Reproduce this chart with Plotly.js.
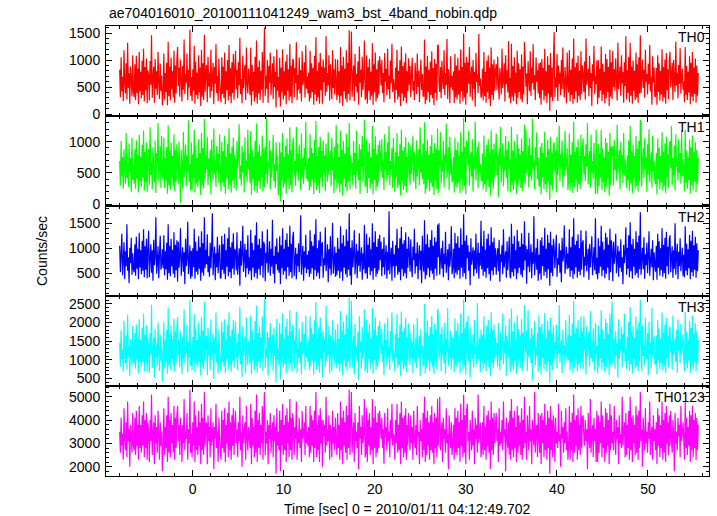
<!DOCTYPE html>
<html>
<head>
<meta charset="utf-8">
<script src="https://cdn.plot.ly/plotly-3.0.1.min.js"></script>
<style>html,body{margin:0;padding:0;background:#fff;}#chart{width:717px;height:516px;}</style>
</head>
<body>
<div id="chart"></div>
<script>
// Time grid: start time and bin width (seconds)
const tStart = -8.0;
const tStep = 0.0795;

const labels = ["TH0", "TH1", "TH2", "TH3", "TH0123"];
const colors = ["#ff0000", "#00ff00", "#0000ff", "#00ffff", "#ff00ff"];

const th0 = [
820,310,1050,420,690,240,1180,560,380,940,
270,1320,480,760,190,880,620,330,1090,410,
310,920,260,1080,390,840,180,1150,420,780,290,990,350,1210,230,870,440,1030,200,810,
720,250,980,540,1460,300,660,880,210,1020,
470,790,350,1150,590,280,930,430,710,160,
370,1120,270,760,410,950,160,1340,330,880,250,1040,460,790,300,1170,210,900,380,1010,
1240,520,860,320,1010,640,230,890,450,1380,
370,740,580,1120,260,820,490,1560,340,680,
240,830,430,1260,190,970,350,770,280,1090,400,860,150,1190,320,940,260,1470,410,800,
910,220,1060,510,770,300,1190,420,630,950,
180,870,560,1290,390,700,240,1030,610,340,
220,1050,370,880,290,1140,180,790,440,1000,250,1280,330,850,200,960,390,1110,270,820,
1170,460,820,290,960,530,1410,370,650,200,
1080,480,750,910,260,1230,550,380,840,620,
350,1230,160,910,420,780,230,1060,300,1360,190,870,380,990,260,800,450,1150,210,930,
1600,330,710,470,1000,210,890,580,1140,350,
660,940,280,1070,500,780,120,1200,430,690,
310,1040,140,860,400,1200,270,790,340,970,180,1100,430,830,250,1290,320,890,200,1020,
980,310,850,570,1330,260,720,450,1050,380,
810,230,1160,540,640,960,300,1270,470,700,
380,770,230,1170,290,940,410,850,170,1080,360,1420,240,800,310,960,190,1130,440,880,
190,1010,590,860,340,1440,410,760,530,1090,
250,920,620,280,1180,480,830,360,1020,560,
260,1010,350,790,200,1240,330,900,150,1060,420,840,280,1180,220,950,370,1550,250,810,
1530,320,690,900,240,1110,510,740,400,970,
170,1250,580,820,310,1060,450,680,1360,270,
300,1090,190,870,430,1020,260,780,340,1310,170,920,400,1140,230,830,290,990,360,1070,
880,530,1000,390,760,220,1130,600,840,350,
1210,460,710,280,990,570,1300,410,650,520,
210,860,440,1190,270,800,320,1000,150,1250,380,890,240,960,300,1120,200,790,420,1030,
540,890,310,720,1040,430,610,260,950,680,
370,1120,500,800,220,660,1010,450,740,330,
330,1380,180,880,260,1080,410,820,220,970,350,1160,290,850,160,1020,390,930,250,1270,
1270,580,410,870,290,990,620,460,1180,350,
760,540,1390,280,830,640,200,1070,490,710,
440,790,200,1110,310,900,270,1040,360,810,190,1200,420,870,230,1490,300,950,170,1060,
380,960,560,1240,320,690,880,250,1000,470,
780,140,1130,600,730,390,1480,520,660,300,
380,840,250,1150,330,780,210,990,400,1090,280,860,150,1230,350,920,260,1010,430,800,
920,440,1060,590,270,850,700,360,1210,480,
620,940,230,1090,550,810,400,1350,290,670,
200,1300,320,890,240,1050,390,770,180,1170,300,940,410,830,270,1100,220,880,360,1340,
1020,510,750,180,980,630,420,1160,340,860,
570,1290,450,720,260,1050,600,810,380,940,
290,960,170,1020,440,850,250,1210,330,790,200,1070,380,910,60,1130,310,860,240,990,
1520,310,680,490,1110,240,900,560,770,350,
1000,460,1230,590,300,870,640,200,1140,520,
400,1180,230,820,350,1030,190,1400,280,870,420,950,210,1080,330,800,260,1160,370,900,
730,410,970,270,1400,540,690,840,330,1080,
480,760,150,920,610,1260,370,710,550,990,
180,1000,300,840,430,1250,240,930,360,780,200,1110,290,1020,410,870,150,1190,320,960,
280,1170,500,830,430,1030,650,250,1320,460,
700,880,340,1090,570,780,210,960,520,1440,
270,810,390,1060,220,1320,340,880,190,990,430,800,260,1140,300,920,210,1050,380,1460,
390,670,1010,480,820,300,1190,600,740,360,
930,550,1280,420,690,170,1070,580,860,320,
330,850,170,1090,410,940,250,800,360,1200,230,870,300,1010,190,1130,440,830,280,970,
1150,490,720,950,260,1000,630,410,1340,530,
770,290,910,560,1220,380,680,840,450,600,
220,1240,350,890,260,780,400,1070,180,950,320,1150,240,860,370,1030,210,900,340,760];

const th1 = [
690,300,1010,450,760,250,880,570,330,1140,
420,650,280,970,520,740,200,1060,390,610,
330,880,250,1020,410,790,190,1110,370,760,280,950,430,1180,220,840,350,990,200,780,
880,310,1230,470,690,240,910,560,350,1020,
180,820,640,1300,380,560,930,260,1090,470,
400,1060,260,740,380,910,170,1260,300,850,240,990,440,770,290,1120,210,870,360,960,
720,330,1000,540,20,870,610,250,1160,430,
680,950,290,780,510,1340,360,640,220,990,
230,800,420,1190,190,930,330,740,270,1040,390,820,150,1140,310,900,250,1360,400,770,
560,1080,310,730,450,870,160,1040,600,380,
1210,490,700,280,930,540,810,340,1120,470,
210,1000,350,850,280,1090,170,760,430,960,240,1210,320,820,190,920,380,1060,260,790,
650,220,1010,580,760,1280,400,620,300,940,
510,830,190,1070,450,700,360,1190,560,800,
340,1170,150,880,410,750,220,1010,290,1290,180,840,370,950,250,770,440,1100,200,890,
270,920,480,1380,330,680,590,1020,240,860,
430,720,1110,370,640,260,990,530,770,150,
300,990,40,830,390,1140,260,760,330,930,170,1050,420,800,240,1230,310,860,190,980,
1060,460,690,300,1240,520,810,380,950,600,
230,1130,440,740,330,900,560,1320,410,650,
370,740,220,1120,280,900,400,820,160,1030,350,1330,230,770,300,920,180,1080,430,850,
280,1020,500,780,210,970,620,360,1150,470,
700,850,290,1060,540,740,180,920,400,1270,
250,970,340,760,190,1180,320,870,140,1010,410,810,270,1130,210,910,360,1300,240,780,
580,660,310,1010,470,820,250,1180,530,710,
390,960,170,880,600,1090,350,640,1350,290,
290,1040,180,840,420,980,250,750,330,1250,160,890,390,1090,220,800,280,950,350,1020,
780,510,1040,420,700,230,1120,560,830,360,
990,470,1250,310,690,560,900,260,1060,520,
200,830,430,1140,260,770,310,960,140,1190,370,860,230,920,290,1070,190,760,410,990,
620,310,940,480,720,1100,360,830,560,240,
1020,450,690,880,300,1230,510,760,400,970,
320,1310,170,850,250,1030,400,790,210,930,340,1110,280,820,150,980,380,890,240,1210,
180,860,600,1150,340,700,520,1010,270,790,
640,1290,420,580,910,230,1080,490,740,350,
430,760,190,1060,300,870,260,1000,350,780,180,1150,410,840,220,1380,290,910,160,1020,
950,620,1180,300,680,830,440,1040,200,770,
560,1320,380,710,920,260,1000,530,650,410,
370,810,240,1100,320,750,200,950,390,1040,270,830,140,1180,340,880,250,970,420,770,
1130,470,800,120,890,620,1240,350,690,980,
290,760,540,1090,430,870,210,1010,580,720,
190,1240,310,860,230,1010,380,740,170,1120,290,900,400,800,260,1050,210,850,350,1270,
330,1200,500,660,940,270,1060,450,790,380,
1370,560,700,240,910,610,1150,400,750,310,
280,920,160,980,430,820,240,1160,320,760,190,1030,370,880,70,1080,300,830,230,950,
990,520,860,190,1080,470,680,1260,360,800,
590,1020,280,730,450,1170,540,640,900,230,
390,1130,220,790,340,990,180,1320,270,840,410,910,200,1040,320,770,250,1110,360,870,
1050,480,770,370,960,600,1300,320,700,850,
260,1110,510,690,410,980,570,160,1190,440,
170,960,290,810,420,1190,230,890,350,750,190,1060,280,980,400,840,140,1140,310,920,
760,930,300,1030,550,720,380,1270,490,660,
870,250,1000,610,790,340,1140,460,710,520,
260,780,380,1020,210,1250,330,850,180,950,420,770,250,1090,290,890,200,1010,370,1340,
1330,290,680,900,420,1060,560,750,200,960,
480,1200,350,640,830,270,1090,530,700,390,
320,820,160,1050,400,900,240,770,350,1150,220,840,290,970,180,1080,430,800,270,930,
1010,580,1250,310,740,470,940,220,1120,600,
680,380,1040,500,820,330,1180,450,720,560,
210,1190,340,860,250,750,390,1030,170,910,310,1100,230,830,360,990,200,870,330,740];

const th2 = [
1050,520,880,1290,460,760,1120,380,940,640,
1480,550,820,300,1010,700,1210,470,900,590,
520,1080,450,1230,590,990,380,1310,620,960,480,1150,550,1380,420,1040,570,1190,400,980,
1350,420,780,1080,510,960,350,1170,660,830,
1620,490,720,1040,400,870,1250,570,690,980,
600,1260,460,940,580,1110,370,1480,500,1050,440,1190,640,970,490,1320,410,1070,560,1160,
330,1130,610,850,1400,450,760,1020,530,920,
280,1190,640,800,1530,480,710,1060,390,950,
430,1000,620,1390,390,1130,530,950,470,1240,590,1020,350,1340,510,1100,450,1620,600,970,
680,1280,520,840,430,1110,600,990,1700,460,
770,1030,360,900,620,1230,500,860,1070,410,
410,1250,570,1080,490,1290,380,960,630,1200,440,1420,520,1020,400,1120,590,1300,470,990,
930,560,1320,470,740,1000,250,1150,650,880,
1450,530,790,1090,420,970,600,1260,480,820,
550,1370,360,1110,610,960,420,1260,500,1520,390,1070,580,1190,460,1000,650,1340,410,1130,
1060,340,910,700,1380,510,760,1140,450,990,
630,1570,490,850,300,1040,680,1200,560,920,
510,1240,280,1060,600,1400,470,990,540,1170,380,1300,620,1030,450,1450,520,1090,400,1220,
1330,440,780,1010,380,890,640,1100,520,960,
1660,470,730,1050,350,940,610,1270,500,870,
580,950,430,1360,490,1140,600,1050,370,1280,560,1580,440,1000,510,1160,390,1330,640,1080,
1120,410,800,660,1420,540,750,1080,320,980,
590,1240,460,830,1510,490,710,1030,430,910,
460,1210,550,990,400,1440,530,1100,350,1260,610,1040,480,1380,420,1150,570,1700,450,1010,
270,1160,620,860,1360,480,770,1090,400,950,
650,1300,530,820,1020,370,900,580,1470,510,
500,1290,390,1070,620,1220,460,980,540,1500,370,1120,600,1340,430,1030,490,1190,560,1270,
760,1130,440,990,620,1220,470,840,1060,390,
930,560,1740,480,790,1010,350,1150,640,880,
410,1060,640,1390,470,1000,520,1200,360,1430,580,1090,440,1160,500,1320,400,990,610,1230,
880,530,1180,660,420,1030,760,1390,490,900,
640,1120,380,850,1060,560,950,300,1250,700,
530,1560,380,1080,460,1280,600,1020,420,1170,550,1360,490,1050,370,1220,590,1130,450,1470,
820,1500,470,780,1000,590,1150,420,890,680,
1330,510,740,980,360,1090,630,870,1440,480,
630,990,400,1310,510,1100,470,1240,560,1010,390,1400,610,1070,430,1680,500,1150,380,1260,
800,1060,550,930,260,1200,670,840,1020,440,
960,580,1290,500,760,1110,390,910,650,1550,
580,1040,450,1350,530,970,410,1190,600,1290,480,1060,350,1420,550,1120,460,1210,620,1000,
470,830,1000,540,1170,330,880,720,1060,480,
1380,610,790,940,410,1140,560,860,1230,450,
400,1490,520,1090,440,1250,590,960,380,1370,500,1140,610,1030,470,1300,420,1080,560,1540,
750,1050,290,980,630,1310,520,820,1080,400,
920,690,1640,460,770,1010,570,1190,350,870,
490,1160,370,1220,640,1050,450,1410,530,990,400,1270,580,1110,250,1330,510,1060,440,1190,
1040,600,940,1270,430,800,670,1100,510,960,
320,1210,740,850,1460,490,720,1030,580,900,
600,1380,430,1020,550,1230,390,1600,480,1070,620,1150,410,1280,530,1000,460,1360,570,1100,
1160,420,830,650,1350,540,780,990,370,1080,
620,890,1240,460,750,1020,560,1600,480,810,
380,1200,500,1040,630,1450,440,1130,560,970,400,1310,490,1220,610,1070,360,1390,520,1160,
970,340,1130,690,860,1290,500,760,1050,430,
940,610,1180,530,820,280,1070,700,910,1420,
470,1010,590,1260,420,1520,540,1080,390,1190,630,990,460,1340,500,1120,410,1250,580,1720,
470,790,1010,580,1220,390,880,660,1110,500,
840,1340,450,730,990,620,1160,360,920,680,
530,1050,370,1290,610,1140,450,1000,560,1400,430,1070,500,1210,390,1330,640,1030,480,1170,
1260,520,800,1040,410,960,590,1500,470,850,
1090,380,930,640,1200,540,780,1010,440,870,
420,1440,550,1090,460,980,600,1270,380,1150,520,1350,440,1060,570,1230,410,1100,540,960];

const th3 = [
1450,820,1790,1020,1260,680,2050,1130,900,1640,
740,2210,1080,1380,560,1560,1190,860,1910,1000,
880,1720,760,1950,1010,1580,640,2080,930,1540,800,1860,960,2240,700,1670,900,1930,680,1600,
1320,650,1720,1150,2480,780,1240,1600,520,1830,
1060,1410,830,2000,1210,700,1680,970,1350,420,
990,2010,770,1520,950,1800,620,2390,850,1690,730,1920,1030,1560,820,2110,690,1750,920,1870,
2150,1110,1540,800,1770,1260,610,1620,1030,2360,
890,1330,1180,1950,660,1490,1070,2600,840,1290,
720,1610,1000,2230,660,1840,880,1530,790,2000,960,1650,580,2150,840,1780,750,2560,980,1570,
1650,580,1860,1120,1400,730,2090,990,1250,1710,
480,1580,1160,2270,920,1310,620,1800,1220,810,
690,2020,940,1730,810,2090,640,1550,1020,1940,740,2280,870,1640,680,1820,960,2070,780,1590,
2030,1050,1470,710,1690,1140,2420,880,1280,540,
1900,1090,1370,1620,640,2140,1170,860,1520,1230,
910,2190,600,1790,1000,1540,710,2040,830,2450,650,1720,950,1900,770,1610,1040,2160,690,1830,
2650,790,1330,1060,1760,570,1610,1200,1990,850,
1270,1680,700,1870,1100,1420,380,2100,1010,1300,
860,1990,480,1700,970,2260,790,1580,890,1890,640,2100,1010,1650,740,2330,870,1760,680,1950,
1730,760,1550,1180,2300,650,1340,1040,1840,900,
1480,600,2020,1150,1260,1700,740,2190,1070,1320,
940,1530,720,2170,820,1850,990,1690,610,2060,930,2550,730,1600,850,1870,650,2140,1030,1740,
530,1780,1210,1570,820,2450,960,1390,1130,1920,
630,1660,1240,700,2060,1090,1500,870,1810,1190,
770,1960,910,1560,680,2310,880,1780,590,2030,1000,1680,800,2210,710,1840,950,2680,760,1620,
2580,780,1310,1640,610,1960,1120,1360,940,1740,
460,2170,1200,1490,760,1880,1030,1290,2350,680,
830,2080,640,1730,1020,1970,760,1580,900,2400,620,1810,980,2150,720,1660,820,1910,940,2050,
1600,1150,1830,930,1380,590,1980,1230,1530,840,
2120,1060,1340,720,1770,1190,2280,970,1270,1140,
690,1700,1040,2230,790,1600,860,1940,570,2300,960,1760,740,1870,830,2120,670,1590,1000,1980,
1310,860,1720,1050,1480,640,1960,1180,920,1590,
770,2120,1240,1040,1650,560,1830,1150,1390,820,
880,2500,630,1740,770,2050,990,1630,700,1880,920,2180,810,1690,620,1960,970,1810,750,2370,
2280,1010,1270,1700,690,1890,1120,1430,900,2010,
620,1560,1220,2390,850,1330,1070,1780,740,1620,
1030,1590,660,2110,850,1780,790,1990,930,1620,640,2250,1000,1720,710,2620,840,1850,600,2020,
1190,2180,960,1410,500,1870,1250,1030,1680,790,
2070,1140,1360,870,2530,980,1290,1590,660,1820,
960,1670,750,2170,880,1550,690,1920,990,2070,800,1710,560,2280,910,1800,770,1950,1020,1610,
1100,1450,810,1990,1210,720,1740,1000,1380,2250,
880,1510,1160,1920,570,1640,1260,1060,2100,830,
670,2380,860,1760,730,2010,970,1540,620,2200,820,1830,1000,1650,780,2090,700,1720,930,2470,
1420,1190,1790,700,2340,1080,1300,1570,910,1850,
440,1670,1230,2040,860,1350,1110,1730,680,2200,
810,1880,610,1960,1040,1690,740,2260,870,1580,680,2040,950,1790,380,2130,850,1700,720,1920,
1020,1460,1250,1940,780,1610,1170,2470,920,1320,
1530,640,1810,1130,1390,850,2060,1200,990,1660,
990,2210,710,1630,900,1980,650,2580,790,1720,1020,1850,690,2060,870,1610,760,2170,940,1760,
750,2160,1270,1440,600,1900,1090,1340,1750,820,
2310,1050,1480,940,1840,1210,710,1990,1150,1370,
630,1930,820,1670,1030,2330,730,1820,920,1560,660,2100,800,1990,1000,1700,590,2230,850,1870,
2560,870,1290,1600,760,1780,1120,1430,520,2090,
1030,1550,1240,1880,800,1690,1180,2240,950,1310,
760,1620,970,2020,700,2420,880,1750,640,1900,1030,1600,770,2160,820,1810,690,2000,950,2610,
1620,690,1930,1100,1400,860,2130,1230,1010,1720,
580,2020,1160,1470,780,2400,1070,1350,1640,890,
870,1660,610,2070,990,1840,740,1570,910,2270,710,1730,840,1950,650,2120,1040,1640,790,1890,
1860,1200,1500,730,2190,1120,1300,1570,940,1800,
650,2080,1250,1420,910,1960,1140,1380,1690,1030,
700,2290,900,1760,780,1550,980,2040,640,1860,860,2190,730,1700,930,1990,690,1780,880,1530];

const th0123 = [
3500,2600,4100,2900,3400,2300,4500,3200,2700,3900,
2400,4800,3100,3600,2000,3800,3300,2600,4300,2900,
2700,4100,2500,4400,2900,3800,2300,4600,2800,3800,2600,4200,2900,4800,2400,4000,2800,4300,2300,3900,
3500,2200,4000,3100,5100,2500,3400,3900,2100,4200,
3000,3700,2600,4400,3300,2300,3900,2900,3500,1800,
2900,4500,2500,3700,2800,4200,2200,5000,2600,4000,2400,4300,3000,3800,2600,4600,2300,4100,2800,4200,
4600,3100,3800,2500,4100,3400,2200,3800,3000,4900,
2700,3500,3200,4300,2300,3600,3000,5300,2600,3400,
2400,3900,2900,4800,2200,4200,2700,3700,2500,4400,2900,3900,2100,4700,2700,4100,2500,5200,2900,3800,
3900,2100,4200,3100,3700,2400,4500,2900,3400,3900,
1900,3700,3200,4700,2800,3500,2200,4100,3300,2600,
2300,4400,2800,4000,2600,4500,2200,3800,3000,4300,2400,4800,2700,3900,2300,4200,2900,4500,2500,3800,
4400,3000,3600,2400,3900,3100,5000,2700,3500,2000,
4200,3000,3500,3900,2300,4600,3200,2700,3700,3300,
2800,4700,2100,4100,2900,3700,2400,4400,2600,5100,2200,4000,2800,4300,2500,3800,3000,4600,2300,4200,
5200,2500,3500,3000,4000,2100,3800,3200,4300,2600,
3400,3900,2400,4200,3100,3700,1700,4500,2900,3500,
2700,4400,1800,4000,2900,4700,2500,3800,2700,4200,2200,4500,3000,3900,2400,4900,2700,4100,2300,4300,
3900,2500,3700,3200,4800,2300,3500,3000,4100,2800,
3600,2200,4400,3200,3400,3900,2500,4600,3000,3500,
2900,3700,2400,4600,2600,4200,2900,4000,2200,4400,2800,5200,2400,3800,2700,4200,2200,4500,3000,4000,
2000,4000,3300,3800,2600,5000,2900,3600,3100,4200,
2300,3800,3400,2400,4400,3000,3700,2700,4100,3200,
2500,4300,2800,3800,2300,4800,2700,4100,2100,4400,2900,3900,2600,4600,2300,4200,2800,5300,2500,3900,
5200,2600,3500,3900,2200,4300,3100,3500,2800,3900,
1900,4600,3200,3700,2500,4200,3000,3400,4900,2400,
2600,4500,2200,4000,2900,4300,2500,3700,2700,4900,2100,4100,2800,4600,2400,3900,2600,4300,2800,4400,
3800,3200,4100,2800,3600,2100,4300,3300,3700,2700,
4500,3100,3500,2400,4000,3200,4700,2900,3400,3300,
2300,4000,3000,4700,2600,3800,2700,4300,2100,4800,2800,4100,2400,4200,2600,4500,2300,3800,2900,4300,
3400,2700,4200,3000,3700,2300,4400,3200,2800,3800,
2500,4600,3300,3500,2100,4000,3100,3600,2400,4300,
2700,5000,2200,4100,2500,4400,2900,3900,2300,4200,2700,4600,2600,3900,2100,4300,2800,4100,2400,4900,
2900,3500,5000,2700,3300,3900,2200,4100,3200,3600,
2600,4500,3000,3400,1900,4200,3300,2800,3900,2500,
3000,3800,2300,4500,2600,4100,2500,4400,2800,3900,2200,4700,2900,4000,2400,5100,2600,4200,2100,4400,
4700,3100,3500,2300,4000,3400,2700,4400,2900,3600,
2100,4100,3200,3800,2600,5100,3000,3400,3900,2400,
2800,3900,2500,4600,2700,3700,2300,4200,2900,4400,2600,4000,1900,4800,2700,4100,2500,4300,3000,3800,
4300,3100,3600,2200,4500,2900,3500,3000,4000,2700,
4800,3300,3600,1800,4100,3200,2800,3900,2500,4400,
2300,4900,2700,4100,2400,4400,2800,3700,2200,4600,2600,4200,2900,3900,2500,4500,2300,4000,2800,5000,
3000,3500,2300,4200,3400,2700,4600,3100,3600,2100,
4000,3300,2900,5200,2600,3500,3800,2400,4300,3200,
2600,4200,2100,4300,3000,4000,2400,4700,2700,3800,2300,4400,2800,4100,1700,4600,2700,4000,2400,4200,
3600,2200,4100,3000,3500,2800,4700,3100,3400,2000,
4400,3200,3700,2600,3900,3000,4500,2700,3500,2300,
2900,4600,2300,3900,2700,4300,2200,5100,2600,4000,2900,4200,2300,4500,2700,3800,2500,4600,2800,4100,
4200,3300,2900,4000,3100,3600,1900,4300,3200,2800,
4900,2600,3400,3800,2400,4100,3100,3600,2200,4400,
2200,4200,2600,3900,3000,4800,2400,4200,2800,3700,2200,4500,2600,4300,2900,4000,2100,4700,2700,4200,
3000,3500,2700,4600,3300,2500,4000,3200,3700,2100,
4200,3000,3400,2800,5000,2900,3500,3900,2400,4300,
2500,3800,2800,4400,2300,5000,2700,4100,2200,4200,3000,3800,2500,4600,2600,4200,2300,4400,2800,5200,
3100,3600,2000,4100,3300,2700,4500,3000,3500,2600,
3900,3200,4800,2500,3400,3700,2300,4200,3100,3600,
2700,3900,2100,4500,2900,4200,2400,3800,2800,4800,2300,4000,2600,4300,2200,4600,3000,3900,2500,4200,
2900,4400,3200,2600,4000,3400,1800,4300,3000,3500,
2700,4100,3300,3800,2400,4600,3100,3400,3900,3200,
2300,4800,2800,4100,2500,3700,2900,4400,2200,4200,2700,4600,2400,4000,2800,4300,2300,4100,2700,3800];

const series = [th0, th1, th2, th3, th0123];
const yRanges = [[-37, 1630], [-27, 1410], [46, 1846], [293, 2715], [1600, 5460]];
const yDticks = [500, 500, 500, 500, 1000];
const yMinor = [100, 100, 100, 100, 200];
const xRange = [-9.5, 56.7];
const titleText = "ae704016010_20100111041249_wam3_bst_4band_nobin.qdp";
const xTitle = "Time [sec] 0 = 2010/01/11 04:12:49.702";
const yTitle = "Counts/sec";

const font = {family: "Liberation Sans, Arial, Helvetica, sans-serif", size: 14, color: "#000"};
const n = 5;
const traces = [];
const layout = {
  width: 717, height: 516,
  margin: {l: 106, r: 8, t: 26, b: 40},
  paper_bgcolor: "#fff", plot_bgcolor: "#fff",
  showlegend: false,
  font: font,
  annotations: []
};

series.forEach((vals, i) => {
  const t = vals.map((_, k) => tStart + k * tStep);
  const suf = i === 0 ? "" : String(i + 1);
  traces.push({
    x: t, y: vals, type: "scatter", mode: "lines",
    xaxis: "x" + suf, yaxis: "y" + suf,
    line: {color: colors[i], width: 1.2, simplify: false},
    hoverinfo: "skip"
  });
  const top = 1 - i / n, bot = 1 - (i + 1) / n;
  layout["xaxis" + suf] = {
    range: xRange, anchor: "y" + suf,
    showline: true, linecolor: "#000", linewidth: 1, mirror: "allticks",
    ticks: "inside", ticklen: 6, tickcolor: "#000", dtick: 10, tick0: 0,
    minor: {dtick: 2, ticks: "inside", ticklen: 3, tickcolor: "#000", showgrid: false},
    showgrid: false, zeroline: false,
    showticklabels: i === n - 1,
    tickfont: font
  };
  if (i > 0) layout["xaxis" + suf].matches = "x";
  layout["yaxis" + suf] = {
    domain: [bot, top], range: yRanges[i], anchor: "x" + suf,
    showline: true, linecolor: "#000", linewidth: 1, mirror: "allticks",
    ticks: "inside", ticklen: 6, tickcolor: "#000", dtick: yDticks[i], tick0: 0,
    minor: {dtick: yMinor[i], ticks: "inside", ticklen: 3, tickcolor: "#000", showgrid: false},
    showgrid: false, zeroline: false,
    tickfont: font, ticklabelstandoff: 2
  };
  layout.annotations.push({
    text: labels[i], xref: "paper", yref: "paper",
    x: 1, y: top, xanchor: "right", yanchor: "top", xshift: -2, yshift: -1,
    showarrow: false, font: font
  });
});

layout.annotations.push({
  text: titleText, xref: "paper", yref: "paper", x: 0, y: 1, xshift: 1, yshift: 13,
  xanchor: "left", yanchor: "middle", showarrow: false, font: font
});
layout.annotations.push({
  text: xTitle, xref: "paper", yref: "paper", x: 0.5, y: 0, yshift: -33,
  xanchor: "center", yanchor: "middle", showarrow: false, font: font
});
layout.annotations.push({
  text: yTitle, xref: "paper", yref: "paper", x: 0, y: 0.5, xshift: -64,
  xanchor: "center", yanchor: "middle", textangle: -90, showarrow: false, font: font
});

Plotly.newPlot("chart", traces, layout, {displayModeBar: false, staticPlot: true});
</script>
</body>
</html>
